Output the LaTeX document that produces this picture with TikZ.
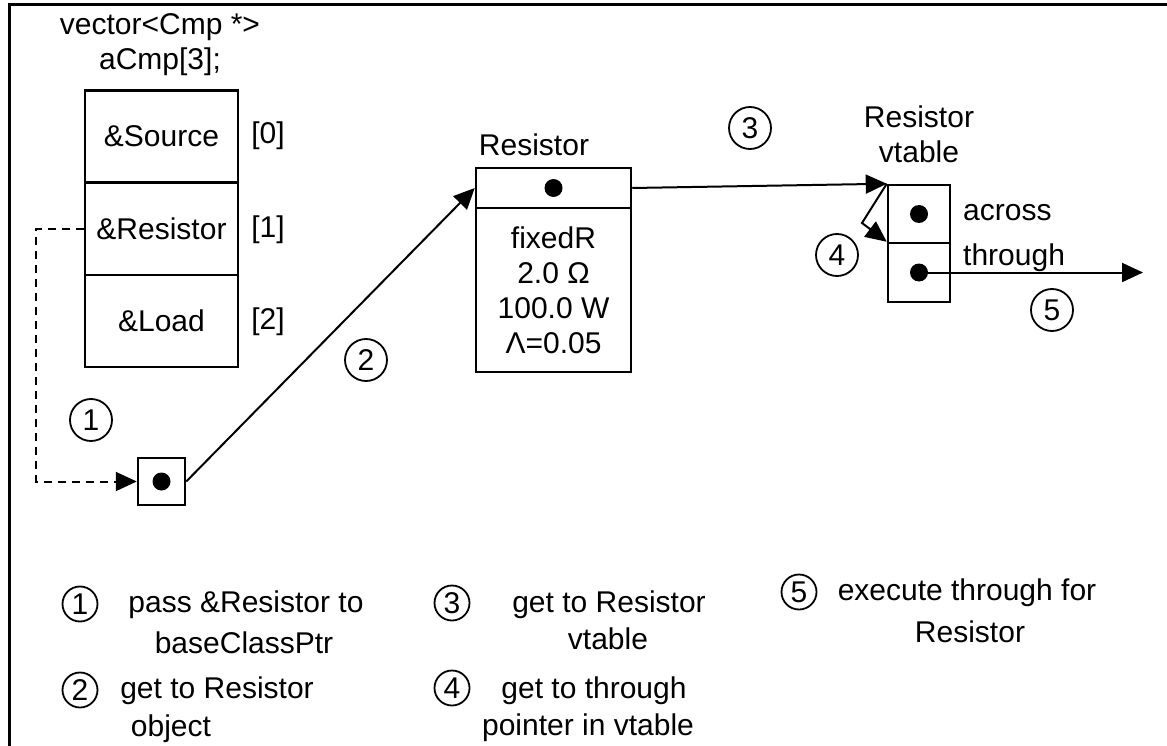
\documentclass[tikz,border=0pt]{standalone}
\usepackage{fontspec}
\setmainfont{Liberation Sans}
\usetikzlibrary{arrows.meta}
\begin{document}
\begin{tikzpicture}[x=1pt,y=-1pt,
  every node/.style={font=\fontsize{30}{35}\selectfont},
  box/.style={draw, line width=2.5pt, inner sep=0pt},
  cell/.style={box, minimum width=153pt, minimum height=92pt},
  dot/.style={circle, fill=black, inner sep=0pt, minimum size=18pt},
  num/.style={circle, draw, line width=1.8pt, inner sep=0pt, minimum size=42pt},
  lnum/.style={circle, draw, line width=1.8pt, inner sep=0pt, minimum size=35pt},
  txt/.style={inner sep=0pt, text height=22pt, text depth=6pt},
  mtxt/.style={inner sep=0pt, align=center},
  conn/.style={line width=2pt, -{Triangle[length=21pt,width=19pt]}},
  dashline/.style={conn, dash pattern=on 8pt off 6pt}
]
\useasboundingbox (0,0) rectangle (1167,746);
% frame
\draw[line width=3pt] (9,746) -- (9,5) -- (1167,5);

% array
\node[mtxt] (title) at (160,45) {vector<Cmp *>\\aCmp[3];};
\node[cell] (a0) at (161.5,136.5) {\&Source};
\node[cell] (a1) at (161.5,229) {\&Resistor};
\node[cell] (a2) at (161.5,321) {\&Load};
\node[txt] (i0) at (268,136) {[0]};
\node[txt] (i1) at (268,229) {[1]};
\node[txt] (i2) at (268,321) {[2]};

% pointer
\node[box, minimum size=47pt] (ptr) at (161.5,481.5) {};
\node[dot] (pd) at (ptr.center) {};

% resistor object
\node[txt] (rlabel) at (534,148) {Resistor};
\node[box, minimum width=155pt, minimum height=40pt] (rtop) at (553.5,188) {};
\node[dot] (rd) at (rtop.center) {};
\node[box, minimum width=155pt, minimum height=164pt, align=center] (rbody) at (553.5,290) {fixedR\\2.0 Ω\\100.0 W\\Λ=0.05};

% vtable
\node[mtxt] (vlabel) at (919,134) {Resistor\\vtable};
\node[box, minimum width=62pt, minimum height=58pt] (vt0) at (919,214) {};
\node[box, minimum width=62pt, minimum height=59pt] (vt1) at (919,272.5) {};
\node[dot] (vd0) at (vt0.center) {};
\node[dot] (vd1) at (vt1.center) {};
\node[txt, anchor=west] (across) at (963,213) {across};
\node[txt, anchor=west] (through) at (963,257) {through};

% connectors
\coordinate (dc) at (36,229);
\draw[dashline] (a1.west) -- (dc) |- (ptr.west);
\draw[conn] (ptr.east) -- (rtop.west);
\draw[conn] (rtop.east) -- (vt0.north west);
\coordinate (k4) at (862,223);
\draw[conn] (vt0.north west) -- (k4) -- (vt1.north west);
\coordinate (e5) at (1143,272.5);
\draw[conn] (vd1.center) -- (e5);

% step numbers
\node[num] (n1) at (91,420) {1};
\node[num] (n2) at (366,360) {2};
\node[num] (n3) at (750,128) {3};
\node[num] (n4) at (837,255) {4};
\node[num] (n5) at (1052,310) {5};

% legend
\node[lnum] (l1) at (80,604) {1};
\node[txt] (l1a) at (246,604) {pass \&Resistor to};
\node[txt] (l1b) at (244,645) {baseClassPtr};
\node[lnum] (l2) at (80,690) {2};
\node[txt] (l2a) at (217,690) {get to Resistor};
\node[txt] (l2b) at (171,728) {object};
\node[lnum] (l3) at (452,603) {3};
\node[txt] (l3a) at (609,604) {get to Resistor};
\node[txt] (l3b) at (608,641) {vtable};
\node[lnum] (l4) at (452,688) {4};
\node[txt] (l4a) at (594,690) {get to through};
\node[txt] (l4b) at (588,727) {pointer in vtable};
\node[lnum] (l5) at (799,592) {5};
\node[txt] (l5a) at (967,592) {execute through for};
\node[txt] (l5b) at (970,634) {Resistor};
\end{tikzpicture}
\end{document}
